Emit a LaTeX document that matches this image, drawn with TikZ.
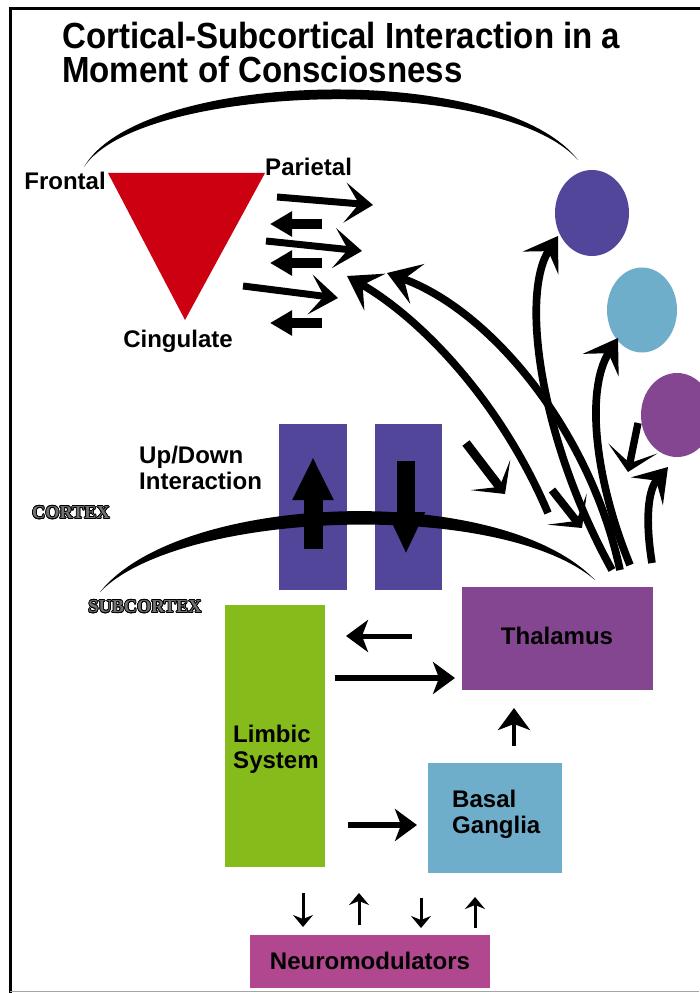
\documentclass[tikz,border=0pt]{standalone}
\usepackage{fontspec}
\usepackage{graphicx}
\setmainfont{Liberation Sans}
\newfontfamily\decofont{Liberation Serif}
\usepackage{contour}
\contourlength{0.6pt}
\usetikzlibrary{arrows.meta,shapes.geometric}

\definecolor{cred}{HTML}{CC0010}
\definecolor{cslate}{HTML}{51469A}
\definecolor{csky}{HTML}{6FAECB}
\definecolor{cplum}{HTML}{844591}
\definecolor{clime}{HTML}{85BC1C}
\definecolor{cmagenta}{HTML}{B0478F}

\begin{document}
\begin{tikzpicture}[x=0.3mm,y=-0.3mm,
  lbl/.style={inner sep=0pt,font=\fontsize{20.5}{22}\selectfont\bfseries},
  box/.style={fill=#1,inner sep=0pt,font=\fontsize{20.5}{22}\selectfont\bfseries},
  blob/.style={ellipse,fill=#1,inner sep=0pt},
  deco/.style={inner sep=0pt,font=\decofont\fontsize{15.6}{16}\selectfont\bfseries},
  swoop/.style={line width=2.3mm,-{Stealth[length=9.6mm,width=12.6mm,inset=4.2mm]}},
  dart/.style={line width=2.1mm,-{Stealth[length=8.4mm,width=12mm,inset=4.2mm]}},
  jab/.style={line width=2.7mm,-{Stealth[length=7.2mm,width=15mm,inset=4.5mm]}},
  block/.style={line width=3.2mm,-{Triangle[length=6.6mm,width=7.2mm]}},
  link/.style={line width=1.6mm,-{Stealth[length=6.6mm,width=9.6mm,inset=1.8mm]}},
  tick/.style={line width=0.9mm,-{Stealth[length=3.6mm,width=6mm,inset=1.2mm]}}]
\useasboundingbox (0,0) rectangle (699,993);
%frame
\draw[line width=0.9mm] (10,993) -- (10,9) -- (700,9);
\draw[black!35,line width=0.3mm] (10,991) -- (699,991);

\node[lbl,anchor=base west,font=\fontsize{28.2}{30}\selectfont\bfseries] (title1) at (62,49) {\scalebox{1}[1.1]{Cortical-Subcortical Interaction in a}};
\node[lbl,anchor=base west,font=\fontsize{28.2}{30}\selectfont\bfseries] (title2) at (62,83) {\scalebox{1}[1.1]{Moment of Consciosness}};

%cortex loop
\fill (84,167) .. controls (140,70) and (500,60) .. (578,160)
  .. controls (500,73) and (140,83) .. (84,167) -- cycle;

%triangle
\coordinate (fr) at (108,173);
\coordinate (pa) at (265,173);
\coordinate (ci) at (185,320);
\fill[cred] (fr) -- (pa) -- (ci) -- cycle;
\node[lbl,anchor=east] (frontal) at (106,181) {Frontal};
\node[lbl,anchor=west] (parietal) at (265,167) {Parietal};
\node[lbl] (cingulate) at (178,341) {Cingulate};

\foreach \n/\xa/\ya/\xb/\yb in {1/277/197/373/205,2/266/241/362/251,3/243/286/338/298}{
  \coordinate (rs\n) at (\xa,\ya);
  \coordinate (re\n) at (\xb,\yb);
  \draw[dart] (rs\n) -- (re\n);
}
\foreach \n/\y in {1/224,2/263,3/323}{
  \coordinate (ls\n) at (322,\y);
  \coordinate (le\n) at (270,\y);
  \draw[block] (ls\n) -- (le\n);
}

%circles
\node[blob=cslate,minimum width=22.2mm,minimum height=25.8mm] (dot1) at (592,213) {};
\node[blob=csky,minimum width=21mm,minimum height=25.5mm] (dot2) at (642,310) {};
\node[blob=cplum,minimum width=21.6mm,minimum height=25.2mm] (dot3) at (677,415) {};

%up/down columns
\node[box=cslate,minimum width=20.4mm,minimum height=49.8mm] (upcol) at (313,507) {};
\node[box=cslate,minimum width=20.1mm,minimum height=49.8mm] (downcol) at (408,507) {};
\node[lbl,align=left,anchor=west] (updown) at (139,468) {Up/Down\\Interaction};

%cortex / subcortex border
\fill (100,592) .. controls (180,492) and (500,481) .. (595,580)
  .. controls (500,499) and (180,510) .. (100,592) -- cycle;
\node[deco] (cortex) at (71,513) {\contour{black}{\textcolor{black!55}{CORTEX}}};
\node[deco] (subcortex) at (145,607) {\contour{black}{\textcolor{black!55}{SUBCORTEX}}};

\coordinate (ub) at (313,549);
\coordinate (ut) at (313,457);
\draw[line width=5.7mm,-{Triangle[length=12.9mm,width=11.4mm]}] (ub) -- (ut);
\coordinate (dt) at (406,461);
\coordinate (db) at (406,554);
\draw[line width=5.4mm,-{Triangle[length=12.6mm,width=10.5mm]}] (dt) -- (db);

%thalamic fan
\coordinate (fa0) at (548,513);
\coordinate (fa1) at (347,276);
\draw[swoop] (fa0) .. controls (500,400) and (420,318) .. (fa1);
\coordinate (fb0) at (620,570);
\coordinate (fb1) at (387,273);
\draw[swoop] (fb0) .. controls (590,430) and (490,310) .. (fb1);
\coordinate (fc0) at (612,570);
\coordinate (fc1) at (558,236);
\draw[swoop] (fc0) .. controls (540,440) and (520,295) .. (fc1);
\coordinate (fd0) at (630,565);
\coordinate (fd1) at (618,338);
\draw[swoop] (fd0) .. controls (595,480) and (585,390) .. (fd1);
\coordinate (fe0) at (652,563);
\coordinate (fe1) at (668,467);
\draw[swoop] (fe0) .. controls (645,520) and (648,490) .. (fe1);
\coordinate (fg0) at (638,423);
\coordinate (fg1) at (628,472);
\draw[jab,line width=2.2mm] (fg0) -- (fg1);
\coordinate (fh0) at (466,443);
\coordinate (fh1) at (505,494);
\draw[jab] (fh0) -- (fh1);
\coordinate (fi0) at (552,490);
\coordinate (fi1) at (582,528);
\draw[jab,line width=2.4mm] (fi0) -- (fi1);

%subcortical boxes
\node[box=cplum,minimum width=57.3mm,minimum height=30.9mm] (thal) at (557,638) {\raisebox{4pt}{Thalamus}};
\node[box=clime,minimum width=30mm,minimum height=78.6mm] (limbic) at (275,736) {};
\node[lbl,align=left,anchor=west] (limbictxt) at (233,749) {Limbic\\System};
\node[box=csky,minimum width=40.2mm,minimum height=33mm] (basal) at (495,818) {};
\node[lbl,align=left,anchor=west] (basaltxt) at (452,814) {Basal\\Ganglia};
\node[box=cmagenta,minimum width=72mm,minimum height=15.9mm] (neuro) at (370,961) {Neuromodulators};

\coordinate (k1) at (412,636);
\coordinate (k2) at (346,636);
\draw[link,line width=1.5mm] (k1) -- (k2);
\coordinate (k3) at (335,678);
\coordinate (k4) at (455,678);
\draw[link,line width=1.8mm] (k3) -- (k4);
\coordinate (k5) at (348,825);
\coordinate (k6) at (417,825);
\draw[link] (k5) -- (k6);
\coordinate (k7) at (514,746);
\coordinate (k8) at (514,708);
\draw[link,line width=1.3mm] (k7) -- (k8);

\foreach \x/\ya/\yb in {303/893/927,359/925/893,421/898/928,475/928/897}{
  \coordinate (n\x a) at (\x,\ya);
  \coordinate (n\x b) at (\x,\yb);
  \draw[tick] (n\x a) -- (n\x b);
}
\end{tikzpicture}
\end{document}
